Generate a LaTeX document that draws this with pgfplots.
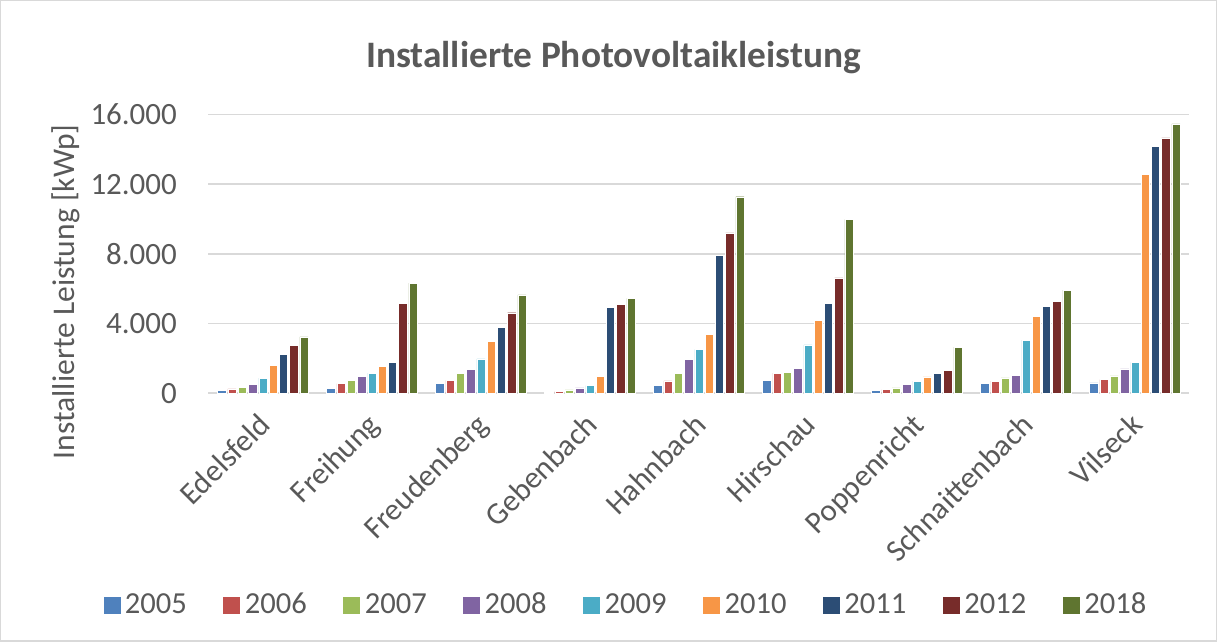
\documentclass[border=0pt]{standalone}
\usepackage{fontspec}
\setmainfont{Carlito}
\usepackage{pgfplots}
\usepackage{pgfplotstable}
\pgfplotsset{compat=1.18}
\definecolor{c05}{HTML}{4F81BD}
\definecolor{c06}{HTML}{C0504D}
\definecolor{c07}{HTML}{9BBB59}
\definecolor{c08}{HTML}{8064A2}
\definecolor{c09}{HTML}{4BACC6}
\definecolor{c10}{HTML}{F79646}
\definecolor{c11}{HTML}{2C4D75}
\definecolor{c12}{HTML}{772C2A}
\definecolor{c18}{HTML}{5F7530}
\definecolor{txt}{HTML}{595959}
\definecolor{gridc}{HTML}{D9D9D9}
\pgfplotstableread{
x y2005 y2006 y2007 y2008 y2009 y2010 y2011 y2012 y2018
0 150 250 340 515 860 1600 2230 2730 3240
1 290 550 740 970 1160 1560 1770 5170 6320
2 570 740 1130 1370 1970 2980 3800 4620 5650
3 60 110 190 300 440 970 4940 5110 5440
4 460 710 1150 1950 2520 3380 7920 9200 11280
5 740 1150 1200 1430 2770 4200 5150 6620 9980
6 170 210 300 515 690 935 1160 1320 2650
7 570 690 880 1030 3050 4410 4980 5290 5920
8 590 780 990 1390 1770 12580 14160 14660 15460
}\data
\begin{document}
\begin{tikzpicture}
\draw[gridc, line width=0.6pt] (0,0) rectangle (608.5pt,320.5pt);
\node[font=\fontsize{18.7}{22}\selectfont\bfseries, text=txt] at (306.75pt,292pt) {Installierte Photovoltaikleistung};
\node[font=\fontsize{15.8}{18}\selectfont, text=txt, rotate=90] at (32.75pt,174.75pt) {Installierte Leistung [kWp]};
\begin{axis}[
  at={(104pt,124pt)}, anchor=south west,
  width=491pt, height=139.5pt, scale only axis,
  ybar=1pt, bar width=4.15pt,
  xmin=-0.5, xmax=8.5, ymin=0, ymax=16000,
  xtick=data,
  xticklabels={Edelsfeld,Freihung,Freudenberg,Gebenbach,Hahnbach,Hirschau,Poppenricht,Schnaittenbach,Vilseck},
  xticklabel style={xshift=-3pt, yshift=-7.5pt, rotate=45, anchor=north east, font=\fontsize{15.5}{18}\selectfont, text=txt, inner sep=1pt},
  ytick={0,4000,8000,12000,16000},
  yticklabel style={font=\fontsize{15.5}{18}\selectfont, text=txt, inner sep=0pt, xshift=-15.6pt},
  /pgf/number format/.cd, 1000 sep={.}, assume math mode=true,
  /pgfplots/.cd,
  scaled y ticks=false,
  ymajorgrids=true, xmajorgrids=false,
  major grid style={gridc, line width=0.8pt},
  axis x line*=bottom, axis y line*=left,
  x axis line style={gridc, line width=0.8pt},
  y axis line style={draw=none},
  major tick length=0pt,
  legend columns=9,
  legend style={at={(-0.1083,-0.760)}, anchor=west, draw=none, fill=none, inner xsep=0pt,
    font=\fontsize{15.3}{18}\selectfont, text=txt,
    /tikz/every even column/.append style={column sep=15.8pt}},
  legend image code/.code={\fill[#1] (0pt,-4.5pt) rectangle (9pt,4.5pt);},
]
\addplot[fill=c05, draw=white, line width=0.2pt] table[x=x,y=y2005]{\data};
\addplot[fill=c06, draw=white, line width=0.2pt] table[x=x,y=y2006]{\data};
\addplot[fill=c07, draw=white, line width=0.2pt] table[x=x,y=y2007]{\data};
\addplot[fill=c08, draw=white, line width=0.2pt] table[x=x,y=y2008]{\data};
\addplot[fill=c09, draw=white, line width=0.2pt] table[x=x,y=y2009]{\data};
\addplot[fill=c10, draw=white, line width=0.2pt] table[x=x,y=y2010]{\data};
\addplot[fill=c11, draw=white, line width=0.2pt] table[x=x,y=y2011]{\data};
\addplot[fill=c12, draw=white, line width=0.2pt] table[x=x,y=y2012]{\data};
\addplot[fill=c18, draw=white, line width=0.2pt] table[x=x,y=y2018]{\data};
\legend{2005,2006,2007,2008,2009,2010,2011,2012,2018}
\end{axis}
\end{tikzpicture}
\end{document}
